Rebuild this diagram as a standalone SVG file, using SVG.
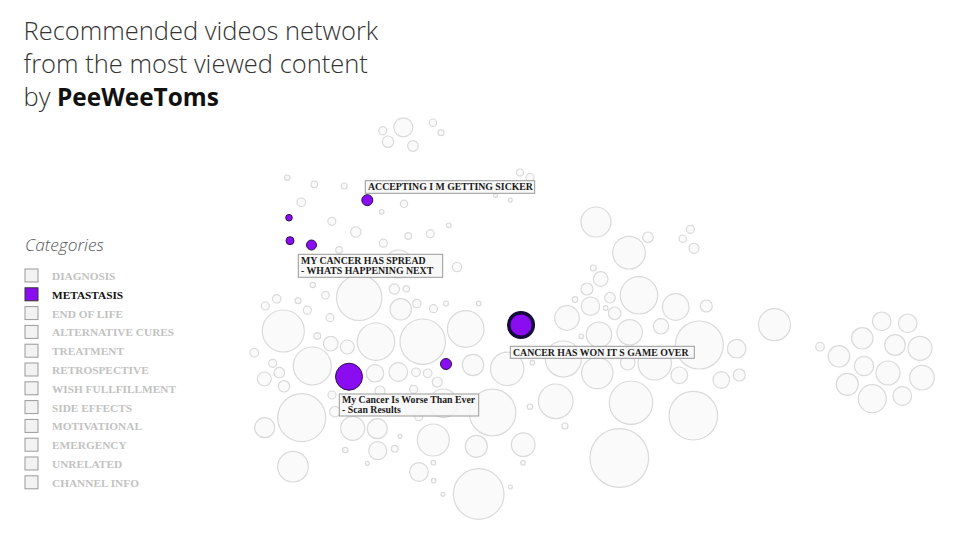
<svg xmlns="http://www.w3.org/2000/svg" width="960" height="540" viewBox="0 0 960 540">
<style>
.t{font-family:"Open Sans","Liberation Sans",sans-serif;font-weight:300;font-size:25.5px;fill:#333}
.b{font-weight:700;font-size:24.4px;fill:#111}
.cat{font-family:"Open Sans","Liberation Sans",sans-serif;font-style:italic;font-weight:300;font-size:17.3px;fill:#555}
.lb{fill:#f2f2f2;stroke:#999;stroke-width:1}
.lb.on{fill:#8a0cf0;stroke:#333}
.lt{font-family:"Liberation Serif",serif;font-weight:700;font-size:11.3px;fill:#c2c2c2}
.lt.on{fill:#111}
.n circle{fill:#fafafa;stroke:#dadada;stroke-width:1.2}
circle.p{fill:#8a0cf0;stroke:#2a1050;stroke-width:1}
circle.pk{fill:#8a0cf0;stroke:#150a3c;stroke-width:3.5}
.tag rect{fill:#f7f7f7;fill-opacity:0.85;stroke:#999;stroke-width:1}
.tag text{font-family:"Liberation Serif",serif;font-weight:700;font-size:9.8px;fill:#1a1a1a}
</style>
<rect width="960" height="540" fill="#fff"/>
<g id="title">
<text class="t" x="23.5" y="40">Recommended videos network</text>
<text class="t" x="23.5" y="73">from the most viewed content</text>
<text class="t" x="23.5" y="106">by <tspan class="b">PeeWeeToms</tspan></text>
</g>
<g id="legend">
<text class="cat" x="25" y="251">Categories</text>
<rect class="lb" x="25" y="269" width="13" height="13"/><text class="lt" x="52" y="280">DIAGNOSIS</text>
<rect class="lb on" x="25" y="287.8" width="13" height="13"/><text class="lt on" x="52" y="298.8">METASTASIS</text>
<rect class="lb" x="25" y="306.6" width="13" height="13"/><text class="lt" x="52" y="317.6">END OF LIFE</text>
<rect class="lb" x="25" y="325.4" width="13" height="13"/><text class="lt" x="52" y="336.4">ALTERNATIVE CURES</text>
<rect class="lb" x="25" y="344.2" width="13" height="13"/><text class="lt" x="52" y="355.2">TREATMENT</text>
<rect class="lb" x="25" y="363" width="13" height="13"/><text class="lt" x="52" y="374">RETROSPECTIVE</text>
<rect class="lb" x="25" y="381.8" width="13" height="13"/><text class="lt" x="52" y="392.8">WISH FULLFILLMENT</text>
<rect class="lb" x="25" y="400.6" width="13" height="13"/><text class="lt" x="52" y="411.6">SIDE EFFECTS</text>
<rect class="lb" x="25" y="419.4" width="13" height="13"/><text class="lt" x="52" y="430.4">MOTIVATIONAL</text>
<rect class="lb" x="25" y="438.2" width="13" height="13"/><text class="lt" x="52" y="449.2">EMERGENCY</text>
<rect class="lb" x="25" y="457" width="13" height="13"/><text class="lt" x="52" y="468">UNRELATED</text>
<rect class="lb" x="25" y="475.8" width="13" height="13"/><text class="lt" x="52" y="486.8">CHANNEL INFO</text>
</g>
<g id="connectors"></g>
<g id="nodes" class="n">
<g id="n1"><circle cx="382.7" cy="130.7" r="4"/></g>
<g id="n2"><circle cx="403.3" cy="127.3" r="9.5"/></g>
<g id="n3"><circle cx="433" cy="122.7" r="3.7"/></g>
<g id="n4"><circle cx="441" cy="132.7" r="3"/></g>
<g id="n5"><circle cx="388" cy="141.7" r="5.7"/></g>
<g id="n6"><circle cx="413" cy="146" r="5.3"/></g>
<g id="n7"><circle cx="520" cy="172.5" r="3.5"/></g>
<g id="n8"><circle cx="530" cy="177.5" r="4"/></g>
<g id="n9"><circle cx="495.5" cy="195.3" r="2"/></g>
<g id="n10"><circle cx="510.3" cy="200.2" r="2"/></g>
<g id="n11"><circle cx="287.3" cy="177.7" r="2.7"/></g>
<g id="n12"><circle cx="314.3" cy="184.3" r="3.3"/></g>
<g id="n13"><circle cx="344.2" cy="186" r="3"/></g>
<g id="n14"><circle cx="301.3" cy="202.3" r="4.3"/></g>
<g id="n15"><circle cx="404" cy="203.8" r="3.7"/></g>
<g id="n16"><circle cx="381.7" cy="211.8" r="2.3"/></g>
<g id="n17"><circle cx="331.8" cy="221.3" r="4"/></g>
<g id="n18"><circle cx="355.8" cy="232" r="5.2"/></g>
<g id="n19"><circle cx="448.7" cy="225.3" r="2.3"/></g>
<g id="n20"><circle cx="430.3" cy="233.7" r="4"/></g>
<g id="n21"><circle cx="408.3" cy="236" r="3.3"/></g>
<g id="n22"><circle cx="383.3" cy="243.2" r="4"/></g>
<g id="n23"><circle cx="339" cy="250" r="3.3"/></g>
<g id="n24"><circle cx="398.5" cy="264" r="14"/></g>
<g id="n25"><circle cx="457" cy="267" r="4.7"/></g>
<g id="n26"><circle cx="312.7" cy="285" r="2.7"/></g>
<g id="n27"><circle cx="359.2" cy="297.8" r="22.7"/></g>
<g id="n28"><circle cx="394.3" cy="289" r="5.2"/></g>
<g id="n29"><circle cx="406.3" cy="288.8" r="3.2"/></g>
<g id="n30"><circle cx="265.3" cy="306" r="4"/></g>
<g id="n31"><circle cx="276.7" cy="298.8" r="4.2"/></g>
<g id="n32"><circle cx="298" cy="300.7" r="3"/></g>
<g id="n33"><circle cx="325.5" cy="295.2" r="3.8"/></g>
<g id="n34"><circle cx="307.3" cy="310.2" r="4"/></g>
<g id="n35"><circle cx="330" cy="317.7" r="4"/></g>
<g id="n36"><circle cx="283.3" cy="331" r="21"/></g>
<g id="n37"><circle cx="400.7" cy="309.3" r="10.7"/></g>
<g id="n38"><circle cx="416.8" cy="303.5" r="4.2"/></g>
<g id="n39"><circle cx="433.5" cy="308.7" r="4"/></g>
<g id="n40"><circle cx="446" cy="303.5" r="2.5"/></g>
<g id="n41"><circle cx="478.7" cy="303.5" r="2.3"/></g>
<g id="n42"><circle cx="317.3" cy="336" r="3.3"/></g>
<g id="n43"><circle cx="376" cy="341.7" r="18.7"/></g>
<g id="n44"><circle cx="422.7" cy="341.7" r="22.7"/></g>
<g id="n45"><circle cx="465.7" cy="329" r="18.3"/></g>
<g id="n46"><circle cx="254.3" cy="352.7" r="4.3"/></g>
<g id="n47"><circle cx="330.7" cy="343.7" r="7.3"/></g>
<g id="n48"><circle cx="347.3" cy="347" r="7"/></g>
<g id="n49"><circle cx="312.3" cy="366" r="19"/></g>
<g id="n50"><circle cx="272.7" cy="363.3" r="4"/></g>
<g id="n51"><circle cx="279.3" cy="372.7" r="5.3"/></g>
<g id="n52"><circle cx="264.3" cy="379" r="7"/></g>
<g id="n53"><circle cx="284" cy="386.3" r="5.7"/></g>
<g id="n54"><circle cx="375" cy="373.3" r="8.7"/></g>
<g id="n55"><circle cx="398.3" cy="372" r="9.3"/></g>
<g id="n56"><circle cx="416" cy="372.3" r="4.3"/></g>
<g id="n57"><circle cx="427.7" cy="373.3" r="4.3"/></g>
<g id="n58"><circle cx="473" cy="365" r="10.7"/></g>
<g id="n59"><circle cx="507.2" cy="368.8" r="16.7"/></g>
<g id="n60"><circle cx="437.3" cy="382" r="5"/></g>
<g id="n61"><circle cx="413.7" cy="389.3" r="4"/></g>
<g id="n62"><circle cx="332" cy="395" r="4"/></g>
<g id="n63"><circle cx="380" cy="391" r="5"/></g>
<g id="n64"><circle cx="335" cy="411.7" r="5.3"/></g>
<g id="n65"><circle cx="443.3" cy="403.3" r="14.3"/></g>
<g id="n66"><circle cx="492.5" cy="412.5" r="23.3"/></g>
<g id="n67"><circle cx="301.7" cy="417.7" r="24"/></g>
<g id="n68"><circle cx="264.7" cy="427.7" r="10"/></g>
<g id="n69"><circle cx="352.7" cy="428.3" r="12"/></g>
<g id="n70"><circle cx="377.3" cy="428.7" r="10"/></g>
<g id="n71"><circle cx="418.7" cy="416.7" r="4"/></g>
<g id="n72"><circle cx="530" cy="406.7" r="2.7"/></g>
<g id="n73"><circle cx="433.3" cy="440" r="16"/></g>
<g id="n74"><circle cx="476.3" cy="446.3" r="11"/></g>
<g id="n75"><circle cx="523.2" cy="444.7" r="11.8"/></g>
<g id="n76"><circle cx="400" cy="436.3" r="2"/></g>
<g id="n77"><circle cx="394.7" cy="448.7" r="3.3"/></g>
<g id="n78"><circle cx="377.7" cy="450.7" r="9"/></g>
<g id="n79"><circle cx="345.3" cy="450" r="2.7"/></g>
<g id="n80"><circle cx="293" cy="466.7" r="15.3"/></g>
<g id="n81"><circle cx="367.3" cy="463.3" r="2"/></g>
<g id="n82"><circle cx="419" cy="472" r="9.3"/></g>
<g id="n83"><circle cx="433.3" cy="462.7" r="2.3"/></g>
<g id="n84"><circle cx="433.7" cy="480.7" r="2.3"/></g>
<g id="n85"><circle cx="443" cy="494.3" r="2"/></g>
<g id="n86"><circle cx="478.7" cy="494" r="25.3"/></g>
<g id="n87"><circle cx="510.3" cy="487" r="2"/></g>
<g id="n88"><circle cx="523" cy="462.8" r="2.3"/></g>
<g id="n89"><circle cx="596" cy="222" r="15"/></g>
<g id="n90"><circle cx="629" cy="252.7" r="16.3"/></g>
<g id="n91"><circle cx="648" cy="237.3" r="5.3"/></g>
<g id="n92"><circle cx="682.7" cy="238.7" r="3.7"/></g>
<g id="n93"><circle cx="690.3" cy="229.3" r="4"/></g>
<g id="n94"><circle cx="694" cy="248.3" r="5"/></g>
<g id="n95"><circle cx="593.3" cy="268" r="3"/></g>
<g id="n96"><circle cx="600.7" cy="279" r="7.3"/></g>
<g id="n97"><circle cx="587" cy="289" r="6"/></g>
<g id="n98"><circle cx="639" cy="295.3" r="18.7"/></g>
<g id="n99"><circle cx="610" cy="297.7" r="5.3"/></g>
<g id="n100"><circle cx="575" cy="299.5" r="2.8"/></g>
<g id="n101"><circle cx="590.5" cy="306.2" r="9.2"/></g>
<g id="n102"><circle cx="605.7" cy="308" r="2.3"/></g>
<g id="n103"><circle cx="614.7" cy="313.3" r="6.3"/></g>
<g id="n104"><circle cx="675.7" cy="307" r="13.3"/></g>
<g id="n105"><circle cx="706.3" cy="306" r="6"/></g>
<g id="n106"><circle cx="567" cy="318" r="12.3"/></g>
<g id="n107"><circle cx="661" cy="326.3" r="7.7"/></g>
<g id="n108"><circle cx="599" cy="334.7" r="12.7"/></g>
<g id="n109"><circle cx="629.7" cy="332.3" r="12.7"/></g>
<g id="n110"><circle cx="699.3" cy="345" r="24"/></g>
<g id="n111"><circle cx="774.5" cy="324.7" r="16"/></g>
<g id="n112"><circle cx="736.7" cy="348.7" r="9.3"/></g>
<g id="n113"><circle cx="581.3" cy="336.3" r="2.3"/></g>
<g id="n114"><circle cx="563.3" cy="359" r="18"/></g>
<g id="n115"><circle cx="597.3" cy="373" r="15.7"/></g>
<g id="n116"><circle cx="627.7" cy="362.7" r="7.3"/></g>
<g id="n117"><circle cx="654.7" cy="363.3" r="16.7"/></g>
<g id="n118"><circle cx="679.3" cy="375.3" r="8.3"/></g>
<g id="n119"><circle cx="721.3" cy="380" r="8.3"/></g>
<g id="n120"><circle cx="739.3" cy="375" r="6"/></g>
<g id="n121"><circle cx="532.3" cy="362.7" r="2.3"/></g>
<g id="n122"><circle cx="555.7" cy="401.3" r="17.3"/></g>
<g id="n123"><circle cx="631" cy="402.7" r="21.7"/></g>
<g id="n124"><circle cx="693.3" cy="415.7" r="24.3"/></g>
<g id="n125"><circle cx="565" cy="426" r="3"/></g>
<g id="n126"><circle cx="619.3" cy="458" r="29.3"/></g>
<g id="n127"><circle cx="820" cy="346.7" r="4.3"/></g>
<g id="n128"><circle cx="839" cy="356.3" r="10.7"/></g>
<g id="n129"><circle cx="862.3" cy="338.3" r="10.7"/></g>
<g id="n130"><circle cx="881.7" cy="321.3" r="9.3"/></g>
<g id="n131"><circle cx="907.7" cy="323.3" r="9.3"/></g>
<g id="n132"><circle cx="895" cy="345" r="10.3"/></g>
<g id="n133"><circle cx="920" cy="348.3" r="12"/></g>
<g id="n134"><circle cx="864" cy="366" r="9.7"/></g>
<g id="n135"><circle cx="888" cy="373" r="12"/></g>
<g id="n136"><circle cx="922" cy="377.7" r="12.3"/></g>
<g id="n137"><circle cx="847.3" cy="384.3" r="11"/></g>
<g id="n138"><circle cx="872.3" cy="398.7" r="14"/></g>
<g id="n139"><circle cx="902.3" cy="396" r="9.3"/></g>
</g>
<g id="metastasis">
<g id="p1"><circle class="p" cx="367.3" cy="200.2" r="5.5"/></g>
<g id="p2"><circle class="p" cx="289" cy="217.7" r="3.3"/></g>
<g id="p3"><circle class="p" cx="290" cy="240.7" r="4"/></g>
<g id="p4"><circle class="p" cx="311.5" cy="245" r="5"/></g>
<g id="p5"><circle class="p" cx="349" cy="376.7" r="13.5"/></g>
<g id="p6"><circle class="p" cx="446" cy="364" r="5.5"/></g>
<g id="p7"><circle class="pk" cx="521" cy="325" r="12.3"/></g>
</g>
<g id="labels">
<g id="tag1" class="tag"><rect x="365.3" y="180.7" width="169.4" height="12.6"/><text x="368" y="190.3">ACCEPTING I M GETTING SICKER</text></g>
<g id="tag2" class="tag"><rect x="298.3" y="254.3" width="144.4" height="23"/><text x="301" y="263.6">MY CANCER HAS SPREAD</text><text x="301" y="274.4">- WHATS HAPPENING NEXT</text></g>
<g id="tag3" class="tag"><rect x="339.3" y="394" width="139.4" height="22"/><text x="342" y="402.5">My Cancer Is Worse Than Ever</text><text x="342" y="413">- Scan Results</text></g>
<g id="tag4" class="tag"><rect x="510.3" y="346.3" width="184" height="12"/><text x="513" y="355.5">CANCER HAS WON IT S GAME OVER</text></g>
</g>
</svg>
